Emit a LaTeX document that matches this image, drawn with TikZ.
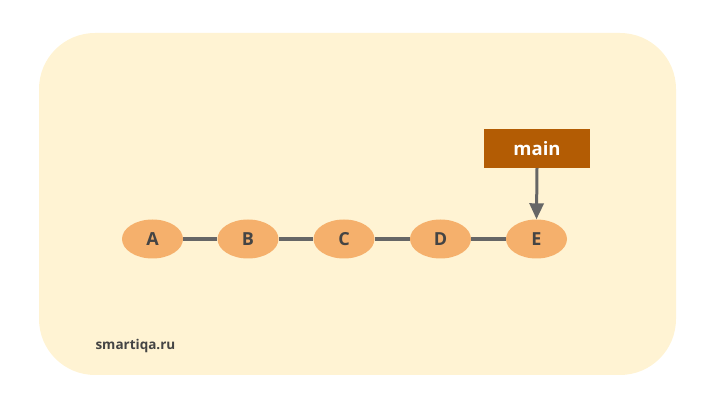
\documentclass[tikz,border=0pt]{standalone}
\usepackage{fontspec}
\setmainfont{Open Sans}
\usetikzlibrary{shapes.geometric,arrows.meta}
\definecolor{bgc}{HTML}{FFF3D3}
\definecolor{nodec}{HTML}{F5B06C}
\definecolor{txtc}{HTML}{444444}
\definecolor{linec}{HTML}{666666}
\definecolor{brc}{HTML}{B35C04}
\tikzset{
  commit/.style={ellipse, fill=nodec, minimum width=61pt, minimum height=39pt, inner sep=0pt,
    font=\fontsize{18}{18}\selectfont\bfseries, text=txtc},
  link/.style={draw=linec, line width=3.5pt},
  branch/.style={rectangle, fill=brc, minimum width=106pt, minimum height=39pt, inner sep=0pt,
    font=\fontsize{18.5}{18.5}\selectfont\bfseries, text=white},
  ptr/.style={draw=linec, line width=3pt, -{Triangle[width=14pt,length=16pt]}}
}
\begin{document}
\begin{tikzpicture}[x=1pt,y=1pt]
\useasboundingbox (0,0) rectangle (718,407);
\fill[bgc, rounded corners=56pt] (39,32) rectangle (676,374);
\node[commit] (A) at (152.5,168) {A};
\node[commit] (B) at (248,168) {B};
\node[commit] (C) at (344,168) {C};
\node[commit] (D) at (440.5,168) {D};
\node[commit] (E) at (536.5,168) {E};
\draw[link] (A) -- (B);
\draw[link] (B) -- (C);
\draw[link] (C) -- (D);
\draw[link] (D) -- (E);
\node[branch] (main) at (537,258.5) {main};
\draw[ptr] (main.south) -- (E.north);
\node[anchor=west, font=\fontsize{13.5}{13.5}\selectfont\bfseries, text=txtc] (site) at (92,61) {smartiqa.ru};
\end{tikzpicture}
\end{document}
